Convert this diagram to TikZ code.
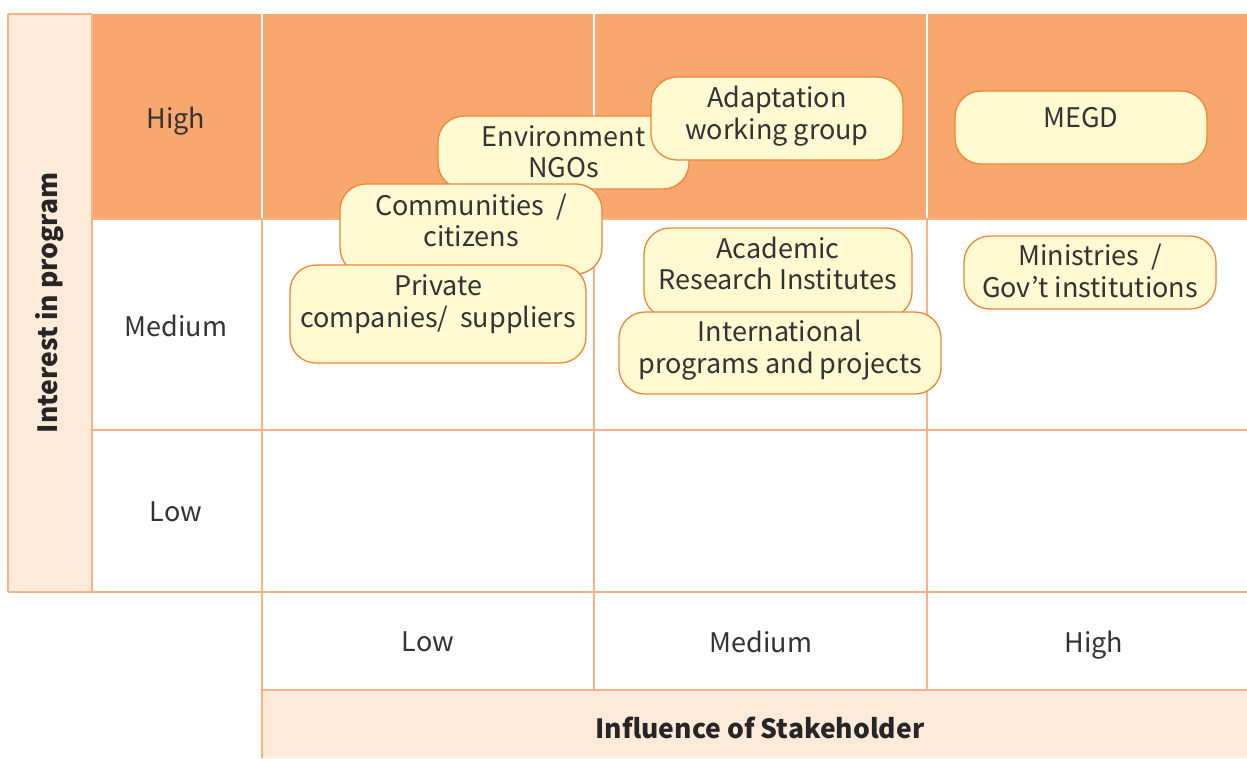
\documentclass[tikz,border=0pt]{standalone}
\usepackage{fontspec}
\setmainfont{Noto Sans CJK KR}
\usetikzlibrary{positioning}

\definecolor{hiorange}{HTML}{F8A86F}
\definecolor{lightpeach}{HTML}{FDEAD8}
\definecolor{gridline}{HTML}{F9B283}
\definecolor{bubblefill}{HTML}{FFFAD2}
\definecolor{bubbleline}{HTML}{F28536}
\definecolor{textgray}{HTML}{333333}

\tikzset{
  gridrule/.style={draw=gridline, line width=1.6pt},
  cellsep/.style={draw=white, line width=2pt},
  level/.style={text=textgray, font=\fontsize{27}{29}\selectfont},
  axistitle/.style={text=black!85, font=\fontsize{26.5}{29}\selectfont\bfseries},
  bubble/.style={draw=bubbleline, fill=bubblefill, line width=1.3pt, rounded corners=26pt, inner sep=0pt},
  bubbletext/.style={text=textgray, align=center, font=\fontsize{27}{31.5}\selectfont, inner sep=0pt},
}

\begin{document}
\begin{tikzpicture}[x=1pt, y=-1pt]
            \useasboundingbox (0,0) rectangle (1247,758);

            % backgrounds
            \fill [lightpeach] (8,14) rectangle (92,592);
            \fill [hiorange] (92,14) rectangle (1247,219);
            \fill [lightpeach] (262,690) rectangle (1247,758);
            \draw [cellsep] (262,14) -- (262,219);
            \draw [cellsep] (594,14) -- (594,219);
            \draw [cellsep] (927,14) -- (927,219);

            % grid
            \draw [gridrule] (8,14) -- (92,14);
            \draw [gridrule] (8,14) -- (8,592);
            \draw [gridrule] (92,14) -- (92,592);
            \draw [gridrule] (92,219) -- (1247,219);
            \draw [gridrule] (92,430) -- (1247,430);
            \draw [gridrule] (8,592) -- (1247,592);
            \draw [gridrule] (262,690) -- (1247,690);
            \draw [gridrule] (262,219) -- (262,758);
            \draw [gridrule] (594,219) -- (594,690);
            \draw [gridrule] (927,219) -- (927,690);

            % axis texts
            \node [axistitle, rotate=90] (interest) at (50,303) {Interest in program};
            \node [level] (rowhigh) at (176,121) {High};
            \node [level] (rowmedium) at (176,326) {Medium};
            \node [level] (rowlow) at (176,512) {Low};
            \node [level] (collow) at (428,642) {Low};
            \node [level] (colmedium) at (761,642) {Medium};
            \node [level] (colhigh) at (1094,645) {High};
            \node [axistitle] (influence) at (760,728) {Influence of Stakeholder};

            % stakeholders
            \node [bubble, minimum width=251pt, minimum height=73pt,
                   label={[bubbletext, yshift=1pt]center:{Environment\\NGOs}}] (ngos) at (563.5,152.5) {};
            \node [bubble, minimum width=252pt, minimum height=83pt,
                   label={[bubbletext, yshift=2.5pt]center:{Adaptation\\working group}}] (adaptation) at (777,118.5) {};
            \node [bubble, minimum width=262pt, minimum height=90pt,
                   label={[bubbletext, yshift=8.5pt]center:{Communities\ \ /\\citizens}}] (communities) at (471,229) {};
            \node [bubble, minimum width=296pt, minimum height=98pt,
                   label={[bubbletext, yshift=10pt]center:{Private\\companies/\ \ suppliers}}] (private) at (438,314) {};
            \node [bubble, minimum width=268pt, minimum height=90pt,
                   label={[bubbletext, yshift=9.5pt]center:{Academic\\Research Institutes}}] (academic) at (778,273) {};
            \node [bubble, minimum width=322pt, minimum height=82pt,
                   label={[bubbletext, yshift=3pt]center:{International\\programs and projects}}] (international) at (780,353) {};
            \node [bubble, minimum width=252pt, minimum height=73pt,
                   label={[bubbletext, yshift=9.5pt]center:MEGD}] (megd) at (1081,127.5) {};
            \node [bubble, minimum width=252pt, minimum height=73pt,
                   label={[bubbletext, yshift=1.5pt]center:{Ministries\ \ /\\Gov't institutions}}] (ministries) at (1090,272.5) {};
          \end{tikzpicture}
\end{document}
